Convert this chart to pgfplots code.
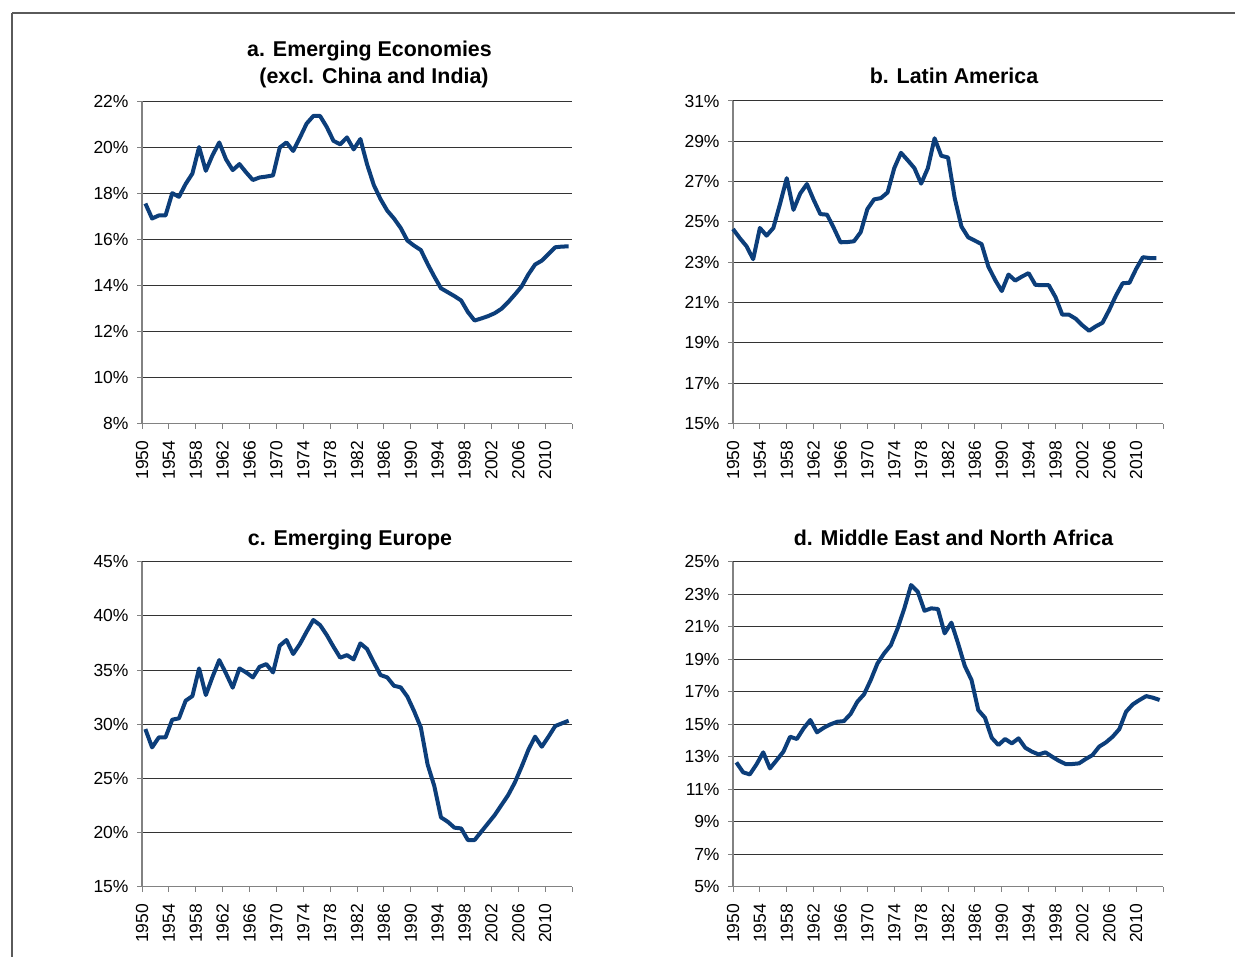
\documentclass[border=0pt]{standalone}
\usepackage{fontspec}
\setmainfont{Liberation Sans}
\usepackage{pgfplots}
\pgfplotsset{compat=1.18}
\definecolor{lineblue}{RGB}{12,62,122}
\definecolor{axgray}{RGB}{130,130,130}
\definecolor{framegray}{RGB}{90,90,90}

\pgfplotstableread{
x y
1950 17.55
1951 16.9
1952 17.03
1953 17.03
1954 18.0
1955 17.84
1956 18.4
1957 18.85
1958 20.0
1959 18.97
1960 19.65
1961 20.2
1962 19.47
1963 19.0
1964 19.26
1965 18.9
1966 18.57
1967 18.68
1968 18.72
1969 18.77
1970 19.98
1971 20.2
1972 19.83
1973 20.41
1974 21.02
1975 21.35
1976 21.35
1977 20.87
1978 20.27
1979 20.12
1980 20.42
1981 19.9
1982 20.35
1983 19.25
1984 18.35
1985 17.74
1986 17.24
1987 16.9
1988 16.49
1989 15.94
1990 15.72
1991 15.53
1992 14.93
1993 14.38
1994 13.87
1995 13.7
1996 13.53
1997 13.34
1998 12.84
1999 12.47
2000 12.56
2001 12.66
2002 12.79
2003 12.98
2004 13.27
2005 13.6
2006 13.95
2007 14.47
2008 14.9
2009 15.07
2010 15.36
2011 15.65
2012 15.68
2013 15.69
}\dataA

\pgfplotstableread{
x y
1950 24.65
1951 24.2
1952 23.8
1953 23.15
1954 24.7
1955 24.32
1956 24.7
1957 25.9
1958 27.17
1959 25.6
1960 26.41
1961 26.88
1962 26.1
1963 25.39
1964 25.36
1965 24.7
1966 23.99
1967 24.0
1968 24.04
1969 24.49
1970 25.64
1971 26.12
1972 26.18
1973 26.46
1974 27.67
1975 28.43
1976 28.06
1977 27.67
1978 26.9
1979 27.67
1980 29.15
1981 28.28
1982 28.2
1983 26.18
1984 24.77
1985 24.24
1986 24.07
1987 23.9
1988 22.79
1989 22.13
1990 21.57
1991 22.39
1992 22.09
1993 22.29
1994 22.46
1995 21.88
1996 21.86
1997 21.86
1998 21.27
1999 20.4
2000 20.4
2001 20.2
2002 19.87
2003 19.6
2004 19.82
2005 20.0
2006 20.64
2007 21.35
2008 21.96
2009 21.98
2010 22.67
2011 23.25
2012 23.21
2013 23.2
}\dataB

\pgfplotstableread{
x y
1950 29.55
1951 27.86
1952 28.78
1953 28.78
1954 30.42
1955 30.54
1956 32.17
1957 32.6
1958 35.15
1959 32.69
1960 34.38
1961 35.92
1962 34.69
1963 33.37
1964 35.15
1965 34.78
1966 34.32
1967 35.3
1968 35.55
1969 34.78
1970 37.25
1971 37.77
1972 36.48
1973 37.4
1974 38.54
1975 39.62
1976 39.15
1977 38.23
1978 37.15
1979 36.14
1980 36.38
1981 35.98
1982 37.46
1983 36.94
1984 35.71
1985 34.54
1986 34.32
1987 33.55
1988 33.4
1989 32.54
1990 31.2
1991 29.7
1992 26.3
1993 24.3
1994 21.4
1995 21.0
1996 20.45
1997 20.38
1998 19.31
1999 19.31
2000 20.08
2001 20.85
2002 21.62
2003 22.54
2004 23.46
2005 24.63
2006 26.08
2007 27.62
2008 28.85
2009 27.92
2010 28.85
2011 29.83
2012 30.08
2013 30.32
}\dataC

\pgfplotstableread{
x y
1950 12.65
1951 12.04
1952 11.91
1953 12.53
1954 13.27
1955 12.28
1956 12.79
1957 13.31
1958 14.23
1959 14.09
1960 14.74
1961 15.26
1962 14.5
1963 14.78
1964 14.99
1965 15.15
1966 15.19
1967 15.63
1968 16.38
1969 16.84
1970 17.72
1971 18.74
1972 19.36
1973 19.87
1974 20.9
1975 22.13
1976 23.56
1977 23.15
1978 21.98
1979 22.13
1980 22.09
1981 20.59
1982 21.25
1983 19.97
1984 18.58
1985 17.72
1986 15.87
1987 15.4
1988 14.17
1989 13.72
1990 14.09
1991 13.82
1992 14.13
1993 13.55
1994 13.31
1995 13.14
1996 13.27
1997 13.0
1998 12.75
1999 12.55
2000 12.55
2001 12.59
2002 12.86
2003 13.1
2004 13.62
2005 13.88
2006 14.23
2007 14.7
2008 15.77
2009 16.22
2010 16.49
2011 16.73
2012 16.63
2013 16.49
}\dataD

\pgfplotsset{
  panel/.style={
    scale only axis,
    width=215pt,
    anchor=south west,
    axis x line*=bottom,
    axis y line*=left,
    axis line style={draw=axgray, line width=0.6pt},
    ymajorgrids,
    grid style={black!80, line width=0.5pt},
    tick align=outside,
    major tick length=2.5pt,
    tick style={draw=axgray, line width=0.5pt},
    ticklabel style={font=\fontsize{8.75}{10}\selectfont, text=black},
    xticklabel style={rotate=90, anchor=east, xshift=-2.6pt},
    yticklabel style={xshift=-0.7pt},
    xticklabels={1950,1954,1958,1962,1966,1970,1974,1978,1982,1986,1990,1994,1998,2002,2006,2010,{}},
    clip=false,
  },
  series/.style={color=lineblue, line width=2pt, line join=round},
}

\begin{document}
\begin{tikzpicture}
\path[use as bounding box] (0,0) rectangle (617.5pt,-478.5pt);
\draw[framegray, line width=1pt] (6pt,-6.5pt) -- (617.5pt,-6.5pt);
\draw[framegray, line width=1pt] (6pt,-6.5pt) -- (6pt,-478.5pt);

\tikzset{ttl/.style={anchor=base, font=\bfseries\fontsize{10.7}{12}\selectfont, inner sep=0pt}}
\node[ttl] at (184.75pt,-28.5pt) {a. Emerging Economies};
\node[ttl] at (187pt,-42pt) {(excl. China and India)};
\node[ttl] at (477pt,-42pt) {b. Latin America};
\node[ttl] at (175pt,-272.75pt) {c. Emerging Europe};
\node[ttl] at (476.75pt,-272.75pt) {d. Middle East and North Africa};

% panel a
\begin{axis}[panel, at={(71pt,-211.75pt)}, height=161.25pt,
  xmin=1949.5, xmax=2013.5,
  xtick={1949.5,1953.5,1957.5,1961.5,1965.5,1969.5,1973.5,1977.5,1981.5,1985.5,1989.5,1993.5,1997.5,2001.5,2005.5,2009.5,2013.5},
  ymin=8, ymax=22, ytick={8,10,12,14,16,18,20,22},
  yticklabels={8\%,10\%,12\%,14\%,16\%,18\%,20\%,22\%}]
\addplot[series] table[x=x,y=y] {\dataA};
\end{axis}

% panel b
\begin{axis}[panel, at={(366.5pt,-211.75pt)}, height=161.25pt,
  xmin=1950, xmax=2014,
  xtick={1950,1954,1958,1962,1966,1970,1974,1978,1982,1986,1990,1994,1998,2002,2006,2010,2014},
  ymin=15, ymax=31, ytick={15,17,19,21,23,25,27,29,31},
  yticklabels={15\%,17\%,19\%,21\%,23\%,25\%,27\%,29\%,31\%}]
\addplot[series] table[x=x,y=y] {\dataB};
\end{axis}

% panel c
\begin{axis}[panel, at={(71pt,-443.35pt)}, height=162.5pt,
  xmin=1949.5, xmax=2013.5,
  xtick={1949.5,1953.5,1957.5,1961.5,1965.5,1969.5,1973.5,1977.5,1981.5,1985.5,1989.5,1993.5,1997.5,2001.5,2005.5,2009.5,2013.5},
  ymin=15, ymax=45, ytick={15,20,25,30,35,40,45},
  yticklabels={15\%,20\%,25\%,30\%,35\%,40\%,45\%}]
\addplot[series] table[x=x,y=y] {\dataC};
\end{axis}

% panel d
\begin{axis}[panel, at={(366.5pt,-443.35pt)}, height=162.5pt,
  xmin=1949.5, xmax=2013.5,
  xtick={1949.5,1953.5,1957.5,1961.5,1965.5,1969.5,1973.5,1977.5,1981.5,1985.5,1989.5,1993.5,1997.5,2001.5,2005.5,2009.5,2013.5},
  ymin=5, ymax=25, ytick={5,7,9,11,13,15,17,19,21,23,25},
  yticklabels={5\%,7\%,9\%,11\%,13\%,15\%,17\%,19\%,21\%,23\%,25\%}]
\addplot[series] table[x=x,y=y] {\dataD};
\end{axis}
\end{tikzpicture}
\end{document}
